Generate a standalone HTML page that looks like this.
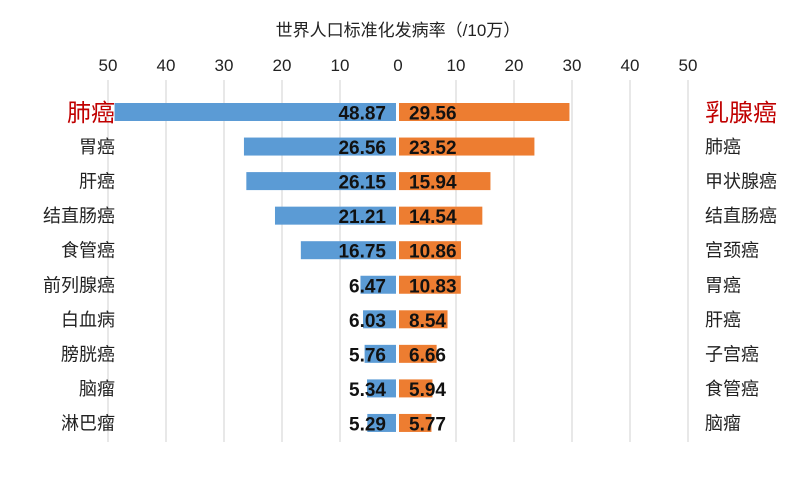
<!DOCTYPE html>
<html><head><meta charset="utf-8">
<style>
html,body{margin:0;padding:0;background:#fff;}
svg{display:block;font-family:"Liberation Sans","Noto Sans CJK SC",sans-serif;}
</style></head>
<body>
<svg id="chart" width="797" height="494" viewBox="0 0 797 494" xmlns="http://www.w3.org/2000/svg">
<text x="398" y="36" text-anchor="middle" font-size="17" fill="#222">世界人口标准化发病率（/10万）</text>
<g id="grid"></g>
<g id="ticks"></g>
<g id="bars"></g>
</svg>
<script>
const leftCategories = ["肺癌","胃癌","肝癌","结直肠癌","食管癌","前列腺癌","白血病","膀胱癌","脑瘤","淋巴瘤"];
const leftValues = [48.87,26.56,26.15,21.21,16.75,6.47,6.03,5.76,5.34,5.29];
const rightCategories = ["乳腺癌","肺癌","甲状腺癌","结直肠癌","宫颈癌","胃癌","肝癌","子宫癌","食管癌","脑瘤"];
const rightValues = [29.56,23.52,15.94,14.54,10.86,10.83,8.54,6.66,5.94,5.77];
const tickValues = [-50,-40,-30,-20,-10,0,10,20,30,40,50];

const NS="http://www.w3.org/2000/svg";
const cx=398, scale=5.8, rowTop=112, rowStep=34.55, barH=18;
const x = v => cx + v*scale;
const y = i => rowTop + i*rowStep;
function mk(tag, attrs, parent, text){
  const e=document.createElementNS(NS,tag);
  for(const k in attrs) e.setAttribute(k,attrs[k]);
  if(text!==undefined) e.textContent=text;
  parent.appendChild(e); return e;
}
const grid=document.getElementById('grid'), ticks=document.getElementById('ticks'), bars=document.getElementById('bars');
tickValues.forEach(t=>{
  if(t!==0){
    const l=mk('line',{x1:x(t),x2:x(t),y1:80,y2:442,stroke:'#d9d9d9','stroke-width':1.2},grid);
    
    
  }
  const tx=mk('text',{x:x(t),y:71,'text-anchor':'middle','font-size':17,fill:'#222'},ticks,String(Math.abs(t)));
  
  
});
leftValues.forEach((v,i)=>{
  const r=mk('rect',{x:x(-v),y:y(i)-barH/2,width:v*scale-2,height:barH,fill:'#5b9bd5'},bars);
  
  
  const t=mk('text',{x:cx-12,y:y(i)+7.5,'text-anchor':'end','font-size':19,'font-weight':'bold',fill:'#111'},bars,v.toFixed(2));
  
  
  const big=i===0;
  const c=mk('text',{x:115,y:y(i)+(big?9:6.5),'text-anchor':'end','font-size':big?24:18,fill:big?'#c00000':'#222'},bars,leftCategories[i]);
  
  
});
rightValues.forEach((v,i)=>{
  const r=mk('rect',{x:cx+1,y:y(i)-barH/2,width:v*scale-1,height:barH,fill:'#ed7d31'},bars);
  
  
  const t=mk('text',{x:cx+11,y:y(i)+7.5,'text-anchor':'start','font-size':19,'font-weight':'bold',fill:'#111'},bars,v.toFixed(2));
  
  
  const big=i===0;
  const c=mk('text',{x:705,y:y(i)+(big?9:6.5),'text-anchor':'start','font-size':big?24:18,fill:big?'#c00000':'#222'},bars,rightCategories[i]);
  
  
});
</script>
</body></html>
